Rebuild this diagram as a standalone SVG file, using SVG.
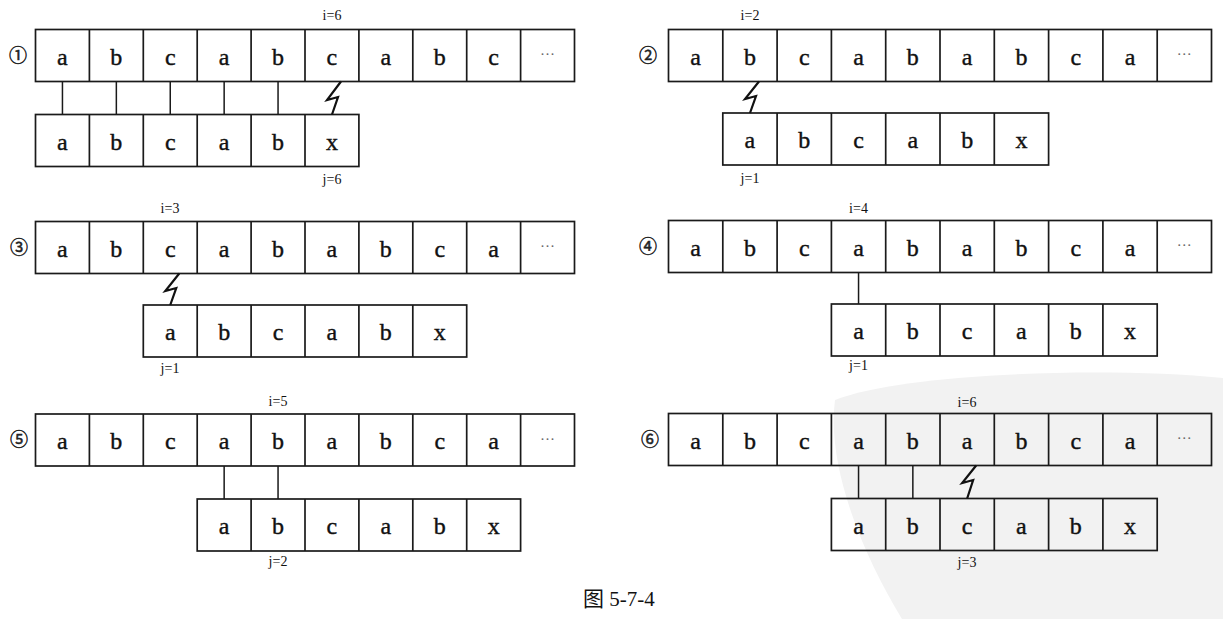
<svg xmlns="http://www.w3.org/2000/svg" width="1223" height="619" viewBox="0 0 1223 619">
<style>
.c{fill:none;stroke:#1a1a1a;stroke-width:1.7}
.k{fill:none;stroke:#1a1a1a;stroke-width:1.5;stroke-linejoin:miter}
.z{fill:none;stroke:#111;stroke-width:2.2;stroke-linejoin:miter}
.t{font-family:"Liberation Serif","Times New Roman",serif;font-size:24px;fill:#111;stroke:#111;stroke-width:0.4;text-anchor:middle}
.d{font-family:"Liberation Serif",serif;font-size:15px;fill:#666;text-anchor:middle}
.l{font-family:"Liberation Serif","Times New Roman",serif;font-size:14px;fill:#111;text-anchor:middle}
.n{font-family:"Noto Sans CJK SC","DejaVu Sans",sans-serif;font-size:18px;fill:#222;stroke:#222;stroke-width:0.5;text-anchor:middle}
.cap{font-family:"Liberation Serif","Noto Sans CJK SC",serif;font-size:21px;fill:#111}
</style>
<path id="watermark" d="M835,400 C900,374 1100,366 1223,378 L1223,619 L902,619 C866,560 826,470 835,400 Z" fill="#f2f2f2"/>

<g id="p1">
<text class="n" x="18" y="62">①</text>
<text class="l" x="332" y="20">i=6</text>
<rect class="c" x="35.5" y="29.5" width="539" height="52"/>
<path class="c" d="M89.4,29.5V81.5M143.3,29.5V81.5M197.2,29.5V81.5M251.1,29.5V81.5M305,29.5V81.5M358.9,29.5V81.5M412.8,29.5V81.5M466.7,29.5V81.5M520.6,29.5V81.5"/>
<text class="t" x="62.45" y="64.5">a</text><text class="t" x="116.35" y="64.5">b</text><text class="t" x="170.25" y="64.5">c</text><text class="t" x="224.15" y="64.5">a</text><text class="t" x="278.05" y="64.5">b</text><text class="t" x="331.95" y="64.5">c</text><text class="t" x="385.85" y="64.5">a</text><text class="t" x="439.75" y="64.5">b</text><text class="t" x="493.65" y="64.5">c</text><text class="d" x="547.55" y="59">···</text>
<rect class="c" x="35.5" y="114.5" width="323.4" height="52"/>
<path class="c" d="M89.4,114.5V166.5M143.3,114.5V166.5M197.2,114.5V166.5M251.1,114.5V166.5M305,114.5V166.5"/>
<text class="t" x="62.45" y="149.5">a</text><text class="t" x="116.35" y="149.5">b</text><text class="t" x="170.25" y="149.5">c</text><text class="t" x="224.15" y="149.5">a</text><text class="t" x="278.05" y="149.5">b</text><text class="t" x="331.95" y="149.5">x</text>
<text class="l" x="332" y="184">j=6</text>
</g>

<g id="p2">
<text class="n" x="648" y="62">②</text>
<text class="l" x="750" y="20">i=2</text>
<rect class="c" x="668.5" y="29.5" width="543" height="52"/>
<path class="c" d="M722.8,29.5V81.5M777.1,29.5V81.5M831.4,29.5V81.5M885.7,29.5V81.5M940,29.5V81.5M994.3,29.5V81.5M1048.6,29.5V81.5M1102.9,29.5V81.5M1157.2,29.5V81.5"/>
<text class="t" x="695.65" y="64.5">a</text><text class="t" x="749.95" y="64.5">b</text><text class="t" x="804.25" y="64.5">c</text><text class="t" x="858.55" y="64.5">a</text><text class="t" x="912.85" y="64.5">b</text><text class="t" x="967.15" y="64.5">a</text><text class="t" x="1021.45" y="64.5">b</text><text class="t" x="1075.75" y="64.5">c</text><text class="t" x="1130.05" y="64.5">a</text><text class="d" x="1184.35" y="59">···</text>
<rect class="c" x="722.8" y="113" width="325.8" height="52"/>
<path class="c" d="M777.1,113V165M831.4,113V165M885.7,113V165M940,113V165M994.3,113V165"/>
<text class="t" x="749.95" y="148">a</text><text class="t" x="804.25" y="148">b</text><text class="t" x="858.55" y="148">c</text><text class="t" x="912.85" y="148">a</text><text class="t" x="967.15" y="148">b</text><text class="t" x="1021.45" y="148">x</text>
<text class="l" x="750" y="183">j=1</text>
</g>

<g id="p3">
<text class="n" x="19" y="254">③</text>
<text class="l" x="170" y="213">i=3</text>
<rect class="c" x="35.5" y="221.5" width="539" height="52"/>
<path class="c" d="M89.4,221.5V273.5M143.3,221.5V273.5M197.2,221.5V273.5M251.1,221.5V273.5M305,221.5V273.5M358.9,221.5V273.5M412.8,221.5V273.5M466.7,221.5V273.5M520.6,221.5V273.5"/>
<text class="t" x="62.45" y="256.5">a</text><text class="t" x="116.35" y="256.5">b</text><text class="t" x="170.25" y="256.5">c</text><text class="t" x="224.15" y="256.5">a</text><text class="t" x="278.05" y="256.5">b</text><text class="t" x="331.95" y="256.5">a</text><text class="t" x="385.85" y="256.5">b</text><text class="t" x="439.75" y="256.5">c</text><text class="t" x="493.65" y="256.5">a</text><text class="d" x="547.55" y="251">···</text>
<rect class="c" x="143.3" y="305" width="323.4" height="52"/>
<path class="c" d="M197.2,305V357M251.1,305V357M305,305V357M358.9,305V357M412.8,305V357"/>
<text class="t" x="170.25" y="340">a</text><text class="t" x="224.15" y="340">b</text><text class="t" x="278.05" y="340">c</text><text class="t" x="331.95" y="340">a</text><text class="t" x="385.85" y="340">b</text><text class="t" x="439.75" y="340">x</text>
<text class="l" x="170" y="373">j=1</text>
</g>

<g id="p4">
<text class="n" x="648" y="253">④</text>
<text class="l" x="858.5" y="213">i=4</text>
<rect class="c" x="668.5" y="220.5" width="543" height="52"/>
<path class="c" d="M722.8,220.5V272.5M777.1,220.5V272.5M831.4,220.5V272.5M885.7,220.5V272.5M940,220.5V272.5M994.3,220.5V272.5M1048.6,220.5V272.5M1102.9,220.5V272.5M1157.2,220.5V272.5"/>
<text class="t" x="695.65" y="255.5">a</text><text class="t" x="749.95" y="255.5">b</text><text class="t" x="804.25" y="255.5">c</text><text class="t" x="858.55" y="255.5">a</text><text class="t" x="912.85" y="255.5">b</text><text class="t" x="967.15" y="255.5">a</text><text class="t" x="1021.45" y="255.5">b</text><text class="t" x="1075.75" y="255.5">c</text><text class="t" x="1130.05" y="255.5">a</text><text class="d" x="1184.35" y="250">···</text>
<rect class="c" x="831.4" y="304" width="325.8" height="52"/>
<path class="c" d="M885.7,304V356M940,304V356M994.3,304V356M1048.6,304V356M1102.9,304V356"/>
<text class="t" x="858.55" y="339">a</text><text class="t" x="912.85" y="339">b</text><text class="t" x="967.15" y="339">c</text><text class="t" x="1021.45" y="339">a</text><text class="t" x="1075.75" y="339">b</text><text class="t" x="1130.05" y="339">x</text>
<text class="l" x="858.5" y="370">j=1</text>
</g>

<g id="p5">
<text class="n" x="19" y="446">⑤</text>
<text class="l" x="278" y="406">i=5</text>
<rect class="c" x="35.5" y="414" width="539" height="52"/>
<path class="c" d="M89.4,414V466M143.3,414V466M197.2,414V466M251.1,414V466M305,414V466M358.9,414V466M412.8,414V466M466.7,414V466M520.6,414V466"/>
<text class="t" x="62.45" y="449">a</text><text class="t" x="116.35" y="449">b</text><text class="t" x="170.25" y="449">c</text><text class="t" x="224.15" y="449">a</text><text class="t" x="278.05" y="449">b</text><text class="t" x="331.95" y="449">a</text><text class="t" x="385.85" y="449">b</text><text class="t" x="439.75" y="449">c</text><text class="t" x="493.65" y="449">a</text><text class="d" x="547.55" y="443.5">···</text>
<rect class="c" x="197.2" y="499" width="323.4" height="52"/>
<path class="c" d="M251.1,499V551M305,499V551M358.9,499V551M412.8,499V551M466.7,499V551"/>
<text class="t" x="224.15" y="534">a</text><text class="t" x="278.05" y="534">b</text><text class="t" x="331.95" y="534">c</text><text class="t" x="385.85" y="534">a</text><text class="t" x="439.75" y="534">b</text><text class="t" x="493.65" y="534">x</text>
<text class="l" x="278" y="566">j=2</text>
</g>

<g id="p6">
<text class="n" x="650" y="446">⑥</text>
<text class="l" x="967" y="407">i=6</text>
<rect class="c" x="668.5" y="413.5" width="543" height="52"/>
<path class="c" d="M722.8,413.5V465.5M777.1,413.5V465.5M831.4,413.5V465.5M885.7,413.5V465.5M940,413.5V465.5M994.3,413.5V465.5M1048.6,413.5V465.5M1102.9,413.5V465.5M1157.2,413.5V465.5"/>
<text class="t" x="695.65" y="448.5">a</text><text class="t" x="749.95" y="448.5">b</text><text class="t" x="804.25" y="448.5">c</text><text class="t" x="858.55" y="448.5">a</text><text class="t" x="912.85" y="448.5">b</text><text class="t" x="967.15" y="448.5">a</text><text class="t" x="1021.45" y="448.5">b</text><text class="t" x="1075.75" y="448.5">c</text><text class="t" x="1130.05" y="448.5">a</text><text class="d" x="1184.35" y="443">···</text>
<rect class="c" x="831.4" y="498.5" width="325.8" height="52"/>
<path class="c" d="M885.7,498.5V550.5M940,498.5V550.5M994.3,498.5V550.5M1048.6,498.5V550.5M1102.9,498.5V550.5"/>
<text class="t" x="858.55" y="533.5">a</text><text class="t" x="912.85" y="533.5">b</text><text class="t" x="967.15" y="533.5">c</text><text class="t" x="1021.45" y="533.5">a</text><text class="t" x="1075.75" y="533.5">b</text><text class="t" x="1130.05" y="533.5">x</text>
<text class="l" x="967" y="567">j=3</text>
</g>

<g id="connectors">
<path class="k" d="M62.45,81.5V114.5M116.35,81.5V114.5M170.25,81.5V114.5M224.15,81.5V114.5M278.05,81.5V114.5"/>
<path class="z" d="M341,81.5L327,100L338,97L332,114.5"/>
<path class="z" d="M759,81.5L745,99L756,96L750,113"/>
<path class="z" d="M179.25,273.5L165.25,291L176.25,288L170.25,305"/>
<path class="k" d="M858.55,272.5V304"/>
<path class="k" d="M224.15,466V499M278.05,466V499"/>
<path class="k" d="M858.55,465.5V498.5M912.85,465.5V498.5"/>
<path class="z" d="M976.15,465.5L962.15,483L973.15,480L967.15,498.5"/>
</g>

<g id="caption">
<text class="cap" x="583" y="606"><tspan font-family="Noto Sans CJK SC, sans-serif">图</tspan> 5-7-4</text>
</g>
</svg>
